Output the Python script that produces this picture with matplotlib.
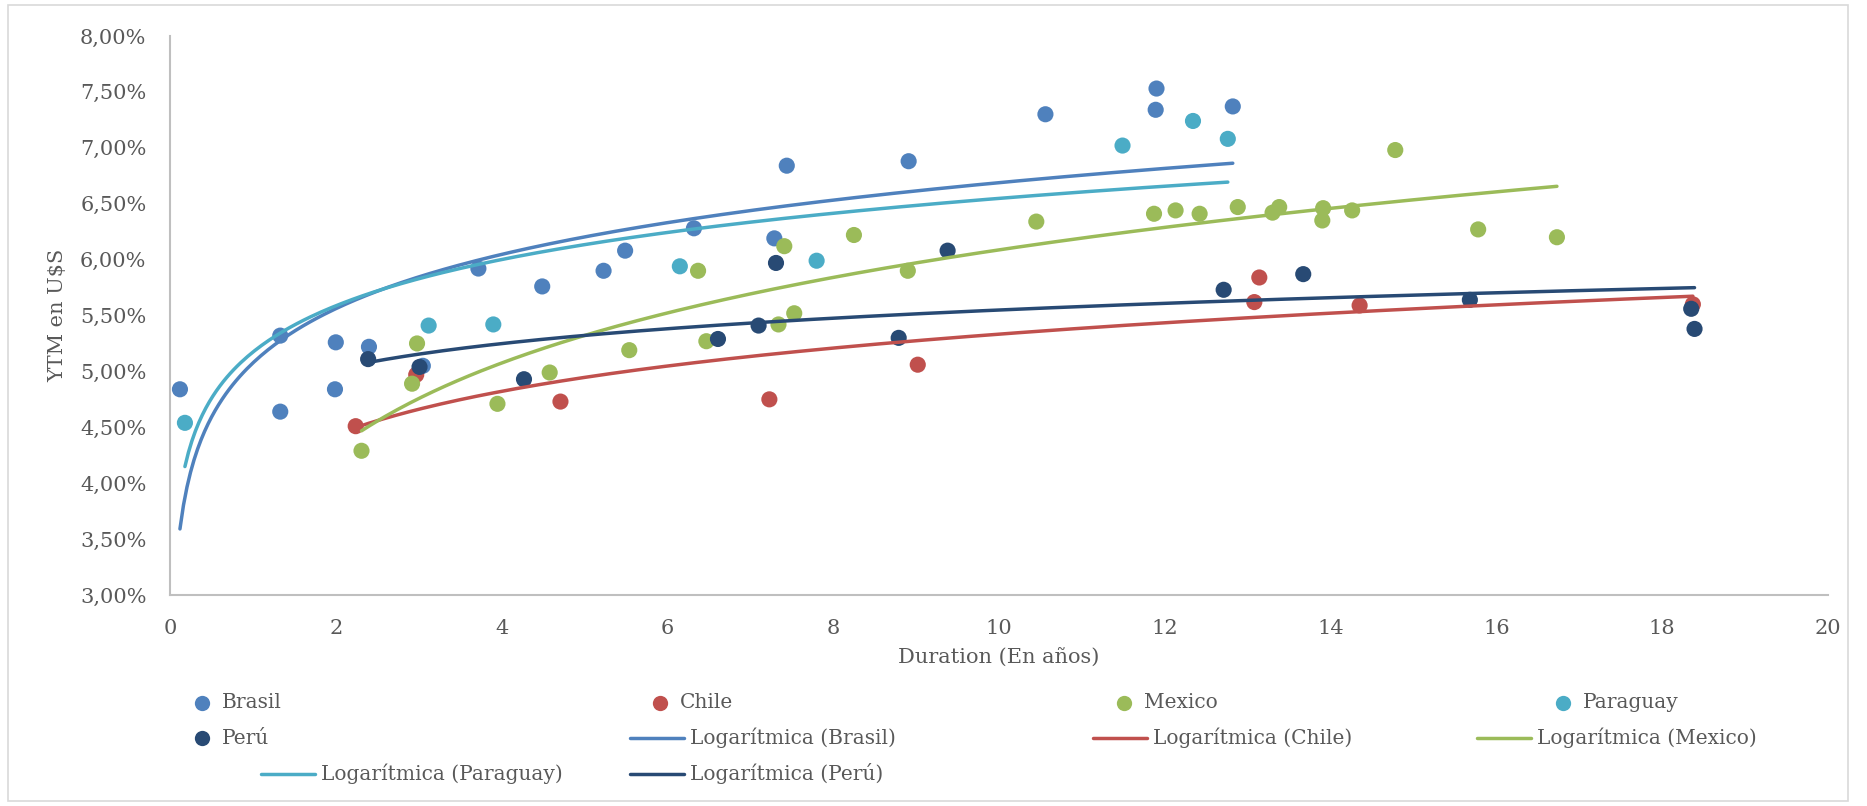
import matplotlib
matplotlib.use("Agg")
import matplotlib.pyplot as plt
from matplotlib.lines import Line2D
from matplotlib.patches import Rectangle
from matplotlib.ticker import FuncFormatter, MultipleLocator
import numpy as np

# duration (years) / YTM (%)
brasil_x = [0.12, 1.33, 1.33, 2.00, 1.99, 2.40, 3.05, 3.72, 4.49, 5.23, 5.49, 6.32,
            7.29, 7.44, 8.91, 10.56, 11.90, 11.89, 12.82]
brasil_y = [4.84, 5.32, 4.64, 5.26, 4.84, 5.22, 5.05, 5.92, 5.76, 5.90, 6.08, 6.28,
            6.19, 6.84, 6.88, 7.30, 7.53, 7.34, 7.37]

chile_x = [2.24, 2.97, 4.71, 7.23, 9.02, 13.08, 13.14, 14.35, 18.37]
chile_y = [4.51, 4.97, 4.73, 4.75, 5.06, 5.62, 5.84, 5.59, 5.60]

mexico_x = [2.31, 2.92, 2.98, 3.95, 4.58, 5.54, 6.37, 6.47, 7.34, 7.41, 7.53, 8.25,
            8.90, 10.45, 11.87, 12.13, 12.42, 12.88, 13.30, 13.38, 13.90, 13.91,
            14.26, 14.78, 15.78, 16.73]
mexico_y = [4.29, 4.89, 5.25, 4.71, 4.99, 5.19, 5.90, 5.27, 5.42, 6.12, 5.52, 6.22,
            5.90, 6.34, 6.41, 6.44, 6.41, 6.47, 6.42, 6.47, 6.35, 6.46,
            6.44, 6.98, 6.27, 6.20]

paraguay_x = [0.18, 3.12, 3.90, 6.15, 7.80, 11.49, 12.34, 12.76]
paraguay_y = [4.54, 5.41, 5.42, 5.94, 5.99, 7.02, 7.24, 7.08]

peru_x = [2.39, 3.01, 4.27, 6.61, 7.10, 7.31, 8.79, 9.38, 12.71, 13.67, 15.68, 18.35, 18.39]
peru_y = [5.11, 5.04, 4.93, 5.29, 5.41, 5.97, 5.30, 6.08, 5.73, 5.87, 5.64, 5.56, 5.38]

names = ["Brasil", "Chile", "Mexico", "Paraguay", "Perú"]
colors = ["#4F81BD", "#C0504D", "#9BBB59", "#4BACC6", "#284A74"]
xs = [brasil_x, chile_x, mexico_x, paraguay_x, peru_x]
ys = [brasil_y, chile_y, mexico_y, paraguay_y, peru_y]

plt.rcParams["font.family"] = ["DejaVu Serif"]
txt_color = "#595959"
axis_color = "#BFBFBF"

W, H = 1867, 806
fig = plt.figure(figsize=(W / 100, H / 100), dpi=100)
ax = fig.add_axes([170 / W, 1 - 595 / H, (1828 - 170) / W, (595 - 36) / H])

for name, c, x, y in zip(names, colors, xs, ys):
    ax.scatter(x, y, s=135, color=c, edgecolors="none", zorder=2)

# logarithmic trend lines (least squares on ln x, like Excel)
for name, c, x, y in zip(names, colors, xs, ys):
    x = np.array(x)
    b, a = np.polyfit(np.log(x), np.array(y), 1)
    xx = np.linspace(x.min(), x.max(), 300)
    ax.plot(xx, a + b * np.log(xx), color=c, lw=2.5, solid_capstyle="round", zorder=3)

ax.set_xlim(0, 20)
ax.set_ylim(3, 8)
ax.xaxis.set_major_locator(MultipleLocator(2))
ax.yaxis.set_major_locator(MultipleLocator(0.5))
ax.yaxis.set_major_formatter(FuncFormatter(lambda v, p: f"{v:.2f}%".replace(".", ",")))

for s in ["top", "right"]:
    ax.spines[s].set_visible(False)
for s in ["left", "bottom"]:
    ax.spines[s].set_color(axis_color)
    ax.spines[s].set_linewidth(1.5)
ax.tick_params(axis="both", length=0, labelsize=15, labelcolor=txt_color)
ax.tick_params(axis="x", pad=17)
ax.tick_params(axis="y", pad=17)

ax.set_xlabel("Duration (En años)", fontsize=15, color=txt_color)
ax.xaxis.set_label_coords(0.5, -0.111)
ax.xaxis.label.set_verticalalignment("center")
ax.set_ylabel("YTM en U$S", fontsize=15, color=txt_color)
ax.yaxis.set_label_coords(-0.0675, 0.5)
ax.yaxis.label.set_verticalalignment("center")

# legend laid out by hand, the way the original arranges it
legend_rows = [
    [("Brasil", 0, "marker", 202), ("Chile", 1, "marker", 660),
     ("Mexico", 2, "marker", 1124), ("Paraguay", 3, "marker", 1563)],
    [("Perú", 4, "marker", 202), ("Logarítmica (Brasil)", 0, "line", 657),
     ("Logarítmica (Chile)", 1, "line", 1120), ("Logarítmica (Mexico)", 2, "line", 1504)],
    [("Logarítmica (Paraguay)", 3, "line", 288), ("Logarítmica (Perú)", 4, "line", 657)],
]
row_y = [703, 738, 774]
for row, yy in zip(legend_rows, row_y):
    fy = 1 - yy / H
    for label, ci, kind, xc in row:
        c = colors[ci]
        if kind == "marker":
            fig.add_artist(Line2D([xc / W], [fy], marker="o", ms=11, color=c,
                                  markeredgecolor="none", lw=0))
            tx = xc + 20
        else:
            fig.add_artist(Line2D([(xc - 27) / W, (xc + 27) / W], [fy, fy],
                                  color=c, lw=2.5, solid_capstyle="round"))
            tx = xc + 33
        fig.text(tx / W, fy, label, fontsize=14.5, color=txt_color, va="center", ha="left")

# chart area border
fig.add_artist(Rectangle((8 / W, 1 - 801 / H), (1848 - 8) / W, (801 - 5) / H,
                         transform=fig.transFigure, fill=False, edgecolor="#D9D9D9", lw=1.2))

fig.savefig("out.png", dpi=100, facecolor="white")
